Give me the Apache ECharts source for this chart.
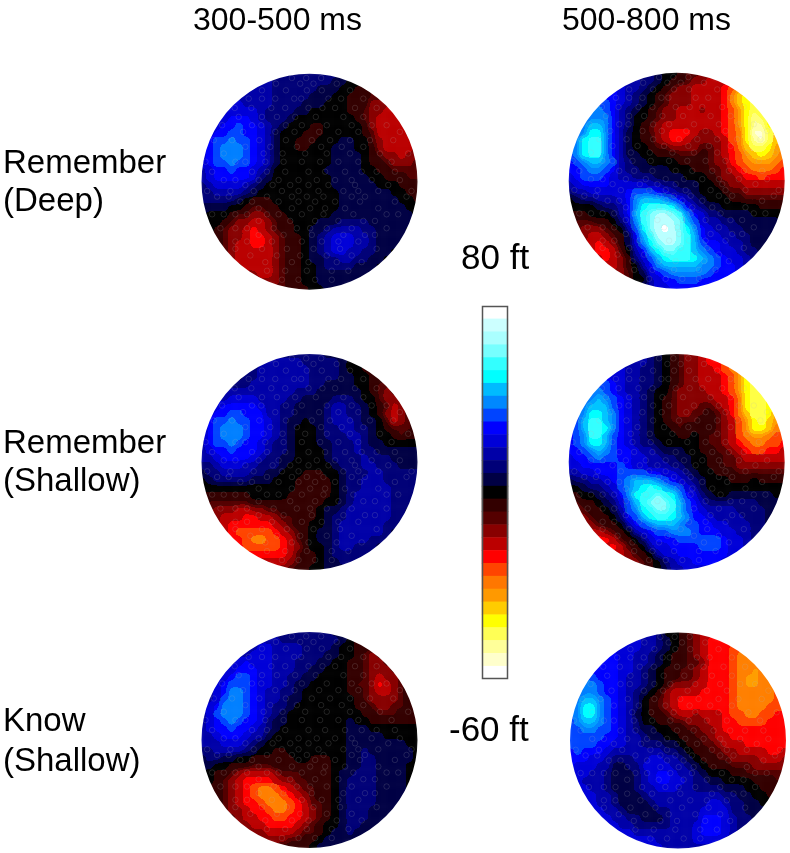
<!DOCTYPE html>
<html lang="en">
<head>
    <meta charset="UTF-8">
    <title>Topographic maps</title>
    <script src="https://cdn.jsdelivr.net/npm/echarts@6/dist/echarts.min.js"></script>
    <style>
        html, body { margin: 0; background: #fff; }
        .layer { position: absolute; left: 0; top: 0; width: 790px; height: 853px; }
        /* softens the cell edges of the maps into contour bands, the top layer stays sharp */
        #maps { filter: url(#contour); }
    </style>
</head>
<body>
<svg width="0" height="0" style="position:absolute">
    <filter id="contour" x="0" y="0" width="100%" height="100%" color-interpolation-filters="sRGB">
        <feGaussianBlur stdDeviation="2.6"/>
        <feComponentTransfer>
            <feFuncR type="discrete" tableValues="0 0 .2 .2 .2 .33 .33 .53 .53 .53 .73 .73 .73 .73 1 1"/>
            <feFuncG type="discrete" tableValues="0 0 .27 .27 .27 .27 .5 .5 .5 .62 .62 .77 .77 .77 1 1"/>
            <feFuncB type="discrete" tableValues="0 0 .27 .27 .27 .27 .47 .47 .47 .66 .66 .66 .85 .85 .85 1"/>
        </feComponentTransfer>
        <feGaussianBlur stdDeviation="0.5"/>
    </filter>
</svg>
<div id="maps" class="layer"></div>
<div id="main" class="layer"></div>
<script>
// colour bar, top to bottom
const levelFt = [80, 75, 70, 65, 60, 55, 50, 45, 40, 35, 30, 25, 20, 15, 10, 5, 0, -5, -10, -15, -20, -25, -30, -35, -40, -45, -50, -55, -60];
const levelColors = ['#ffffff', '#ccffff', '#aaffff', '#77ffff', '#33ffff', '#00ffff', '#00bbff', '#0088ff', '#0044ff', '#0000ff', '#0000d8', '#0000a8', '#000078', '#000044', '#000000',
    '#330000', '#550000', '#880000', '#bb0000', '#ff0000', '#ff4400', '#ff7700', '#ff9900', '#ffcc00', '#ffff00', '#ffff55', '#ffff99', '#ffffcc', '#ffffff'];
// one character per level in the maps below, same order as levelFt
const levelChars = 'edcba987654321.ABCDEFGHIJKLMN';

// values, 30 x 30 cells, top row first, blanks are outside the head
const rememberDeep300 = [
'          2222222221',
'       3332222222211..A',
'      3333222222111..AAB',
'     3333322222111..AAABB',
'    4433332222111...AAACCC',
'   344443222211.....AABCCDD',
'  34555432221........ABCDDDC',
' 34556554321...AA.....ACDDDDC',
' 4556655431...AAA.....ABDDDDC',
'45667665431..AAA...11..BCDDDDC',
'45677765431..AA...111..ACDDDDC',
'45677765431.......1111.ABCCDCC',
'45667665431.......1111.AABCCCB',
'3455655432.......11111..AABBBB',
'3455555421........11111..AAABB',
'234444321.........111111...AAA',
'22333321...........1111111..AA',
'222221.AAA.........11111111..A',
'1111..ABBAA........111111111..',
'1...ABBCCBAA......11111111111.',
'...ABCCDDCBAA...1112222111111.',
' .ABCCDEDCBAA..1123333221111.',
' .ABCCDEEDCBAA.1234443321111.',
'  ABCDDEEDCBAA.123444332111.',
'   BCDDDDDCBAA.12344332211.',
'    CDDDDDCBAA.1122332211.',
'     CDDDDCBAA..12222111.',
'      CCDDCBAA..11111111',
'       CCCCBAA..1111111',
'          BBAAA..111'
];
const rememberDeep500 = [
'          321..ABBCC',
'       433221.AABCCDDDE',
'      543321.ABCCDDDDEFH',
'     554321.ABCCCDDDDEGIJ',
'    6654321.ABCCCDDDDEGIJK',
'   7765321.ABCCDDDCDDEFHJKJ',
'  6777532..ABCCDDDDDDEFHJLKJ',
' 67887532.ABCDDDDDDDDEFHJLLJI',
' 67997531.ABCDEEEDCCDEFGJMMKI',
'679aa7531.AACDEEDCCCCDFGJLMKIH',
'679aa7531..ABBCCCCBBCDEGIKKJHH',
'679aa75311..AAABBBABCDEFHIJIHG',
'56788763211....AAAABCCEFGHHHGF',
'55677653221111...AABBCDEFGGGFE',
'4566654332221111...ABCCDEEFEEE',
'345555444443322111..ABCCDDDDDD',
'233444445666543221...ABBCCCCCC',
'.122333457888765321...AABBBBBB',
'....1223579aaa9753211.....AAAA',
'AAA...1358abccba754221111.....',
'ABBBAA.247abddcb8643322111111.',
' BCCCBA.369bdecb9754332211111',
' BCDDCBA158acddba85443322111.',
'  CDEDCA1479bccba86554332111',
'   DEEDB.3589bbaa8765443221',
'    DEDCA24689aaa987654432',
'     DDCA.357888887765543',
'      CCB.14567777765554',
'       CB..345566655554',
'          2344555554'
];
const rememberShallow300 = [
'          2222222111',
'       2233333222221..A',
'      12333333322221..AA',
'     1223333333222211..AA',
'    22233333333221111..ABB',
'   2333333333222111111.ABCB',
'  33444433332211112221..BCCB',
' 3455555433221111233221.ABDCB',
' 4556655533221111233221.ACDCB',
'35667665543211.112333211.BDCBA',
'3567776554321...12233221.ABBBA',
'3567776554321...12223321..ABAA',
'3566765543221...112223211.....',
'3455655543221....1222322111111',
'3345555432211....1222232221111',
'223444332221......122233222111',
'12233332211...AAA..12223322222',
'.122222111...AAAAA.12233322222',
'.............AAAAA.12233332222',
'AAAAAAA.....AAAAAA.12333332221',
'ABBBBBBAAAAAAAAAA..12333332221',
' BCCCDDCCBBAAAAA.112333333221',
' BCDDDEEDDCBBAAA.122333333221',
'  CDEEEEEEDCBAA..12333333222',
'   DEFFFFFEDCBA.11233333321',
'    EEFGHFFEDBA.1123333222',
'     EFFFFFEDCA..12332221',
'      DEEEEEDBAA.1222222',
'       DDDDDCBAA.112222',
'          CCBAA..111'
];
const rememberShallow500 = [
'          321.ABCCDE',
'       433321.ABCCDEEFG',
'      4433221.ABCCDDEFGH',
'     54433221.ABCCDDDEFHJ',
'    665433221.ABCCDDDEFHJK',
'   676543321..BCCCCDDEFHJKJ',
'  6787654321.ABCCCCCDDEGJKKJ',
' 67888654321.ABCCCBBCDEGJKKJI',
' 67998754321.ABCCBBABCEGIKKJH',
'568aa8754321.ABBBBAABCDFHJKIHG',
'568aa9754321..ABAAAABCDFHJJIGG',
'567aa8654321...AA.ABBCDFGHHGFF',
'5679986543221.....ABBCDEFGGFFE',
'5567876554332111..AABBCDEFFEED',
'45567665544332211..AABBCDDDDDD',
'44555556544333221..AABBCCCCCCC',
'334455566665544321..AAABBBBBBB',
'1223345678887654321...AAA.AAAA',
'..122346789a9876431...........',
'AA..123579aaba975421..111111..',
'BBAA.12468abcba865322222221111',
' CBAA.13679abba86543333222211',
' CCBAA.25689aa987554333322211',
'  DCBAA.35678887665544333221',
'   DDCBA.345667776555443322',
'    EEDBA.2455566666654432',
'     DEDBA.34455556665443',
'      DDCBA.344555555544',
'       CCCBA.2344555544',
'          BA.1334444'
];
const knowShallow300 = [
'          2222222211',
'       3333222222221.AA',
'      3344333322221..AAA',
'     33444333322211..ABCB',
'    34544433322211..AABCCB',
'   34555443332211...AABCCCB',
'  34566544332211....AABCDCCB',
' 34566654433211.....ABBCEDCBA',
' 3457765433221......AABCDDCBA',
'23467765433211.......ABCCCCBAA',
'3457776543221........AABCCBBAA',
'346777654321..........AABBBAAA',
'345676554211........1..AAAAAAA',
'34556554321.........111.......',
'3345554331..........11111.....',
'333444321...........11111111..',
'22333321..AA........112111111.',
'12211..AAAAAA..AAA..112211111.',
'11..AAABBBAAAAAAAA..11221111..',
'..AABCDDDDCBBBAAAA.112221111..',
'..ABCDEEEEDCCBBAAA.122221111..',
' AABCDEFGGFEDCBBAA.122221111.',
' AABCDEFGGGFEDCBAA.1222211111',
'  ABCDEEFGGGFEDBBA.122221111',
'   BCCDEEFGGFEDCBA.12221111',
'    BCDDEEFFEEDCBA.1222111',
'     CCDDEEEEDCBA..122111',
'      BCCDDDDCBBA.112111',
'       BBCCCBBAA.111111',
'          BAAAA.1111'
];
const knowShallow500 = [
'          332..ABCDD',
'       4443321.ABCDEEEE',
'      44443321.ABCDEEEFF',
'     55443321.AABCDEEEFGG',
'    555443321.AABBCEEEFGGG',
'   555544321.AABBCDEEEFGGHG',
'  6655543321.AABBCDEEEFGHHGG',
' 67765543321.ACCCDDEEEFGHHGGF',
' 6776554321.ACDDDDEEEEFGGGGGF',
'6788765432.ABCDEEEEEEEFGGGGGFF',
'6799765432.ABCDEEEEEEEFGGGGFFF',
'6799765431.AABCDDCDDDEFFGGFFEE',
'6788765432..AABBCCCDDEEFFFFEEE',
'667766543211..AABBCCDEEEEEEEEE',
'6666655433211..AABBCDDEEEEEEEE',
'666655443322211.AABBCDDDEEEEEE',
'5655543333333221.AABBCCDDDDEED',
'55544322233443321.AABBCCCCDDDC',
'544433112244443321.AAABBBCCCCC',
'4443321112345543321...AABBBBBB',
'443332111234554432211....AAABA',
' 44332111233444332222111..AAA',
' 444332111233333333332211..A.',
'  443321111233333334432211..',
'   443321111223333444422111',
'    4433221112333355543221',
'     44332222233345554322',
'      444333333334555432',
'       4444433333444433',
'          4443333333'
];

// electrode sites, crop coordinates 18..668 and 25..675
const electrodeRowY = [38, 55, 75, 100, 128, 155, 180, 200, 225, 245, 265, 290, 320, 345, 360, 378, 395, 410, 430, 448, 468, 490, 510, 530, 552, 572, 592, 618, 645];
const electrodeRowX = [
    [290, 333, 378],
    [242, 315, 355, 425],
    [200, 272, 335, 380, 465],
    [160, 200, 240, 297, 318, 400, 438, 505],
    [118, 168, 228, 270, 340, 382, 420, 480, 545],
    [130, 200, 245, 300, 362, 445, 505],
    [80, 170, 198, 272, 320, 395, 470, 530, 575],
    [143, 240, 298, 372, 430, 490, 615],
    [55, 110, 192, 272, 350, 405, 465, 525, 595],
    [150, 225, 305, 378, 440, 505],
    [85, 205, 262, 330, 395, 465, 555, 640],
    [30, 120, 150, 210, 265, 320, 375, 430, 490, 590],
    [50, 170, 215, 270, 340, 390, 450, 500, 545, 600],
    [85, 120, 190, 250, 310, 365, 420, 470, 530, 615],
    [150, 232, 285, 340, 400, 480, 580],
    [35, 105, 175, 260, 310, 370, 445, 490, 550, 650],
    [65, 100, 215, 290, 335, 385, 470, 510, 635],
    [135, 170, 250, 310, 360, 420, 495, 600],
    [190, 290, 345, 390, 450, 550],
    [50, 85, 120, 155, 215, 250, 320, 385, 475, 575, 610],
    [190, 285, 360, 430, 505, 540],
    [75, 120, 155, 235, 305, 345, 395, 470, 575],
    [190, 265, 350, 445, 510, 540],
    [120, 155, 230, 320, 380, 430, 490],
    [120, 200, 275, 355, 435, 545],
    [165, 245, 315, 395, 470],
    [210, 290, 340, 425, 500],
    [215, 270, 335, 410, 460],
    [260, 310, 360, 410]
];

const columnTitles = ['300-500 ms', '500-800 ms'];
const rowTitles = [['Remember', '(Deep)'], ['Remember', '(Shallow)'], ['Know', '(Shallow)']];
const scaleTop = '80 ft';
const scaleBottom = '-60 ft';

const maps = [
    {rows: rememberDeep300, cx: 309.5, cy: 181.7},
    {rows: rememberDeep500, cx: 676.7, cy: 180.8},
    {rows: rememberShallow300, cx: 309.5, cy: 462},
    {rows: rememberShallow500, cx: 676.7, cy: 462},
    {rows: knowShallow300, cx: 309.5, cy: 740},
    {rows: knowShallow500, cx: 678, cy: 740.5}
];
const radius = 108;
const font = '"Liberation Sans", Arial, sans-serif';
const hidden = {show: false};
const pieces = levelFt.map((v, i) => ({value: v, color: levelColors[i]}));

const electrodes = [];
electrodeRowX.forEach((xs, i) => xs.forEach(x => electrodes.push([x, electrodeRowY[i]])));

const cellIds = [];
for (let i = 0; i < 30; i++) cellIds.push(String(i));

// bottom layer, the blurred maps
let heatGrid = [], heatX = [], heatY = [], heatSeries = [];
maps.forEach((m, g) => {
    // a little wider than the head so the blur does not pull white into its edge
    const r = radius + 3;
    heatGrid.push({left: m.cx - r, top: m.cy - r, width: r * 2, height: r * 2});
    heatX.push({type: 'category', gridIndex: g, data: cellIds, ...hidden});
    heatY.push({type: 'category', gridIndex: g, data: cellIds, inverse: true, ...hidden});
    let cells = [];
    m.rows.forEach((row, y) => {
        for (let x = 0; x < row.length; x++) {
            if (row[x] !== ' ') cells.push([x, y, levelFt[levelChars.indexOf(row[x])]]);
        }
    });
    heatSeries.push({type: 'heatmap', xAxisIndex: g, yAxisIndex: g, data: cells, animation: false, silent: true});
});
echarts.init(document.getElementById('maps')).setOption({
    animation: false,
    grid: heatGrid,
    xAxis: heatX,
    yAxis: heatY,
    visualMap: {type: 'piecewise', show: false, dimension: 2, pieces: pieces},
    series: heatSeries
});

// top layer, electrodes, head mask, colour bar, texts
let grid = [], xAxis = [], yAxis = [], series = [], graphic = [];
maps.forEach((m, g) => {
    grid.push({left: m.cx - radius, top: m.cy - radius, width: radius * 2, height: radius * 2});
    xAxis.push({type: 'value', gridIndex: g, min: 18, max: 668, ...hidden});
    yAxis.push({type: 'value', gridIndex: g, min: 25, max: 675, inverse: true, ...hidden});
    series.push({
        type: 'scatter', xAxisIndex: g, yAxisIndex: g, data: electrodes, symbol: 'circle', symbolSize: 5.5,
        itemStyle: {color: 'transparent', borderColor: 'rgba(185,185,185,0.32)', borderWidth: 0.7},
        animation: false, silent: true
    });
    graphic.push({type: 'ring', z: 100, silent: true, shape: {cx: m.cx, cy: m.cy, r: radius + 22, r0: radius}, style: {fill: '#fff'}});
});

grid.push({left: 482, top: 306, width: 26, height: 373});
xAxis.push({type: 'category', gridIndex: maps.length, data: ['ft'], ...hidden});
yAxis.push({type: 'category', gridIndex: maps.length, data: levelFt.map(String), inverse: true, ...hidden});
series.push({
    type: 'heatmap', xAxisIndex: maps.length, yAxisIndex: maps.length,
    data: levelFt.map((v, i) => [0, i, v]), animation: false, silent: true
});
graphic.push({type: 'rect', z: 100, silent: true, shape: {x: 482.5, y: 306.5, width: 25, height: 372}, style: {fill: 'none', stroke: '#555', lineWidth: 1.5}});

function label(text, left, top, size) {
    return {text: text, left: left, top: top, padding: 0, textStyle: {fontFamily: font, fontSize: size, fontWeight: 'normal', color: '#000'}};
}

const title = [
    label(columnTitles[0], 193, 5, 32),
    label(columnTitles[1], 562, 5, 32),
    label(rowTitles[0][0], 3, 147, 33),
    label(rowTitles[0][1], 3, 185, 33),
    label(rowTitles[1][0], 3, 427, 33),
    label(rowTitles[1][1], 3, 465, 33),
    label(rowTitles[2][0], 3, 705, 33),
    label(rowTitles[2][1], 3, 745, 33),
    label(scaleTop, 461, 242, 35),
    label(scaleBottom, 449, 714, 35)
];

echarts.init(document.getElementById('main')).setOption({
    animation: false,
    title: title,
    grid: grid,
    xAxis: xAxis,
    yAxis: yAxis,
    visualMap: {type: 'piecewise', show: false, dimension: 2, seriesIndex: maps.length, pieces: pieces},
    series: series,
    graphic: graphic
});
</script>
</body>
</html>
